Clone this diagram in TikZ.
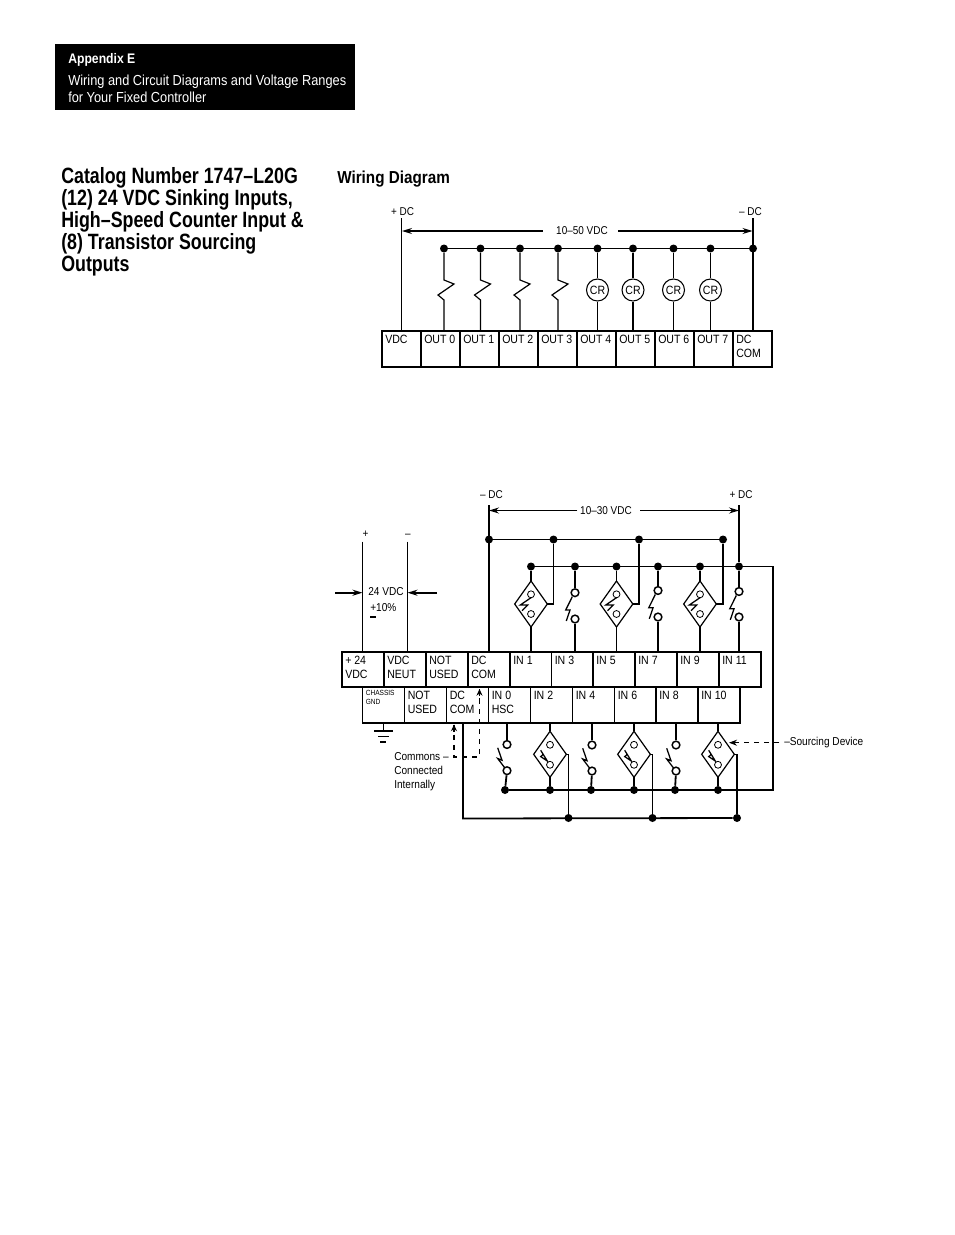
\documentclass[tikz,border=0pt]{standalone}
\usepackage{fontspec}
\setmainfont{Liberation Sans}
\newfontfamily\cond[FakeStretch=0.88]{Liberation Sans}
\newfontfamily\bcond[FakeStretch=0.88]{Liberation Sans Bold}
\newfontfamily\tcond[FakeStretch=0.805]{Liberation Sans Bold}
\usetikzlibrary{shapes.geometric,arrows.meta,calc}
\tikzset{
  wire/.style={line width=0.9pt,line join=miter},
  hvy/.style={line width=1.35pt},
  dotn/.style={circle,fill=black,inner sep=0pt,minimum size=6pt},
  tbox/.style={draw,line width=0.85pt,inner sep=0pt,outer sep=0pt},
  tlab/.style={anchor=north west,inner sep=0pt,align=left,font=\cond\fontsize{9}{10.5}\selectfont},
  lab/.style={inner sep=0pt,font=\cond\fontsize{8.5}{10.5}\selectfont},
  crn/.style={draw,circle,line width=0.8pt,inner sep=0pt,minimum size=16.5pt,fill=white,font=\cond\fontsize{9}{10}\selectfont},
  sens/.style={draw,diamond,line width=0.9pt,inner sep=0pt,outer sep=0pt,minimum width=24.5pt,minimum height=34.5pt,fill=white},
  cnt/.style={draw,circle,line width=0.6pt,inner sep=0pt,minimum size=5.2pt,fill=white},
  sw/.style={draw,circle,line width=1.1pt,inner sep=0pt,minimum size=5.8pt,fill=white},
  blade/.style={line width=0.95pt,line join=miter},
  tip/.style={-{Stealth[length=7.5pt,width=4.5pt]}},
  dsh/.style={line width=0.8pt,dash pattern=on 3.8pt off 3.8pt},
}
\newcommand{\term}[6]{%
  \node[tbox,minimum width={(#3-#2)*0.75pt},minimum height={(#5-#4)*0.75pt}] (#1) at ({(#2+#3)/2},{(#4+#5)/2}) {};
  \node[tlab] (#1-t) at ([shift={(3,3.5)}]#1.north west) {#6};}
\newcommand{\upsens}[3]{%
  \node[sens] (#1) at (#2,#3) {};
  \draw[blade] (#2+1,#3-7) -- (#2-10.7,#3+1) -- (#2-3.3,#3+1) -- (#2-9,#3+6.7);
  \node[cnt] (#1-a) at (#2,#3-9.7) {};
  \node[cnt] (#1-b) at (#2,#3+10) {};}
\newcommand{\lowsens}[3]{%
  \node[sens] (#1) at (#2,#3) {};
  \draw[blade] (#2-9.3,#3-4) -- (#2-2.7,#3+6.7) -- (#2-9.3,#3+2.3) -- (#2-6.7,#3);
  \node[cnt] (#1-a) at (#2,#3-9.5) {};
  \node[cnt] (#1-b) at (#2,#3+10.5) {};}
\newcommand{\upsw}[4]{%
  \draw[blade] (#2-2.7,#3+4) -- (#2-9.3,#3+17.3) -- (#2-5,#3+17.3) -- (#2-8.7,#3+28.3);
  \node[sw] (#1-a) at (#2,#3) {};
  \node[sw] (#1-b) at (#2,#4) {};}
\newcommand{\lowsw}[4]{%
  \draw[blade] (#2-9.3,#3+3.3) -- (#2-5,#3+15.7) -- (#2-9.3,#3+14) -- (#2-1.7,#3+24);
  \node[sw] (#1-a) at (#2,#3) {};
  \node[sw] (#1-b) at (#2,#4) {};}
\begin{document}
\begin{tikzpicture}[x=0.75pt,y=-0.75pt]
\useasboundingbox[fill=white] (0,0) rectangle (954,1235);
% header
\node[fill=black,minimum width=225pt,minimum height=49.5pt,inner sep=0pt] (hdr) at (205,77) {};
\node[inner sep=0pt,anchor=base west,text=white,font=\bcond\fontsize{10.4}{12}\selectfont] (hd1) at (68,63.5) {Appendix E};
\node[inner sep=0pt,anchor=base west,text=white,font=\cond\fontsize{10.9}{12}\selectfont] (hd2) at (68,85) {Wiring and Circuit Diagrams and Voltage Ranges};
\node[inner sep=0pt,anchor=base west,text=white,font=\cond\fontsize{10.9}{12}\selectfont] (hd3) at (68,102) {for Your Fixed Controller};
% title
\node[anchor=north west,inner sep=0pt,align=left,font=\tcond\fontsize{16.6}{16.5}\selectfont] (title) at (61,167)
 {Catalog Number 1747–L20G\\(12) 24 VDC Sinking Inputs,\\High–Speed Counter Input \&\\(8) Transistor Sourcing\\Outputs};
\node[inner sep=0pt,anchor=base west,font=\bcond\fontsize{13}{15}\selectfont] (wd) at (337,183) {Wiring Diagram};

% ===== top diagram =====
\term{vdc}{382}{421}{331}{367}{VDC}
\term{o0}{421}{460}{331}{367}{OUT 0}
\term{o1}{460}{499}{331}{367}{OUT 1}
\term{o2}{499}{538}{331}{367}{OUT 2}
\term{o3}{538}{577}{331}{367}{OUT 3}
\term{o4}{577}{616}{331}{367}{OUT 4}
\term{o5}{616}{655}{331}{367}{OUT 5}
\term{o6}{655}{694}{331}{367}{OUT 6}
\term{o7}{694}{733}{331}{367}{OUT 7}
\term{dcc}{733}{772}{331}{367}{DC\\COM}
\foreach \n/\x in {t0/444,t1/480.5,t2/520,t3/558,t4/597.5,t5/633,t6/673.5,t7/710.5,tc/753}
  \node[dotn] (\n) at (\x,248.5) {};
\draw[wire] (t0) -- (tc);
\foreach \i in {0,1,2,3}
  \draw[wire] (t\i) -- ++(0,31.5) -- ++(10,4) -- ++(-16,11) -- ++(6,5) -- (t\i |- o\i.north);
\foreach \i/\x in {4/597.5,5/633,6/673.5,7/710.5}{
  \node[crn] (cr\i) at (\x,290) {CR};
  \draw[wire] (t\i) -- (cr\i) -- (t\i |- o\i.north);}
\coordinate (pl) at (401.7,218);
\coordinate (mi) at (753,218);
\draw[wire] (pl) -- (pl |- vdc.north);
\draw[hvy] (mi) -- (mi |- dcc.north);
\node[lab] (plus) at (402.5,212) {+ DC};
\node[lab] (minus) at (750.5,212) {– DC};
\node[lab] (v50) at (582,231) {10–50 VDC};
\coordinate (a1) at (402,231);\coordinate (a2) at (752.5,231);
\draw[wire,tip] ([xshift=-10pt]v50.west) -- (a1);
\draw[wire,tip] ([xshift=7.5pt]v50.east) -- (a2);

% ===== bottom diagram =====
\term{p24}{342}{384}{652}{687}{+ 24\\VDC}
\term{neut}{384}{426}{652}{687}{VDC\\NEUT}
\term{nu1}{426}{468}{652}{687}{NOT\\USED}
\term{com1}{468}{510}{652}{687}{DC\\COM}
\term{in1}{510}{551.5}{652}{687}{IN 1}
\term{in3}{551.5}{593}{652}{687}{IN 3}
\term{in5}{593}{635}{652}{687}{IN 5}
\term{in7}{635}{677}{652}{687}{IN 7}
\term{in9}{677}{719}{652}{687}{IN 9}
\term{in11}{719}{761}{652}{687}{IN 11}
\node[tbox,minimum width=31.5pt,minimum height=27pt] (chs) at (383.5,705) {};
\node[tlab,font=\cond\fontsize{5.6}{6.8}\selectfont] (chs-t) at (365.5,690) {CHASSIS\\GND};
\term{nu2}{404.5}{446.5}{687}{723}{NOT\\USED}
\term{com2}{446.5}{488.5}{687}{723}{DC\\COM}
\term{in0}{488.5}{530.5}{687}{723}{IN 0\\HSC}
\term{in2}{530.5}{572.5}{687}{723}{IN 2}
\term{in4}{572.5}{614.5}{687}{723}{IN 4}
\term{in6}{614.5}{656}{687}{723}{IN 6}
\term{in8}{656}{698}{687}{723}{IN 8}
\term{in10}{698}{740}{687}{723}{IN 10}
\draw[hvy] (chs.south west) -- (in10.south east);
\draw[hvy] (in11.north east) -- (in11.south east);
\draw[hvy] (in10.north east) -- (in10.south east);

% 24 VDC
\coordinate (sp) at (362.5,541.5);\coordinate (sn) at (407.5,541.5);
\draw[hvy] (sp) -- (sp |- p24.north);
\draw[hvy] (sn) -- (sn |- neut.north);
\coordinate (ap) at (362.5,592.7);\coordinate (an) at (407.5,592.7);
\coordinate (ap0) at (335,592.7);\coordinate (an0) at (437,592.7);
\draw[hvy,tip] (ap0) -- (ap);
\draw[hvy,tip] (an0) -- (an);
\node[lab] (splus) at (365.5,534) {+};
\node[lab] (sminus) at (408,536) {–};
\node[lab,font=\cond\fontsize{8.6}{10}\selectfont] (v24) at (386,592) {24 VDC};
\node[lab,anchor=west,font=\cond\fontsize{8.6}{10}\selectfont] (pct) at (370,608) {+10\%};
\draw[line width=0.8pt] (370,617) -- (376,617);

% rails
\foreach \n/\x in {b0/489,b1/553.5,b2/639,b3/723}
  \node[dotn] (\n) at (\x,539.5) {};
\foreach \n/\x in {r0/531,r1/575,r2/616.5,r3/658,r4/700,r5/739}
  \node[dotn] (\n) at (\x,566.5) {};
\draw[wire] (b0) -- (b3);
\coordinate (dcm) at (489,505);\coordinate (dcp) at (739,505);
\draw[wire] (dcm) -- (dcm |- com1.north);
\draw[wire] (dcp) -- (r5);
\node[lab] (lm) at (491.5,495) {– DC};
\node[lab] (lp) at (741,495) {+ DC};
\node[lab] (v30) at (606,510.5) {10–30 VDC};
\coordinate (a3) at (489,510.5);\coordinate (a4) at (739,510.5);
\draw[wire,tip] ([xshift=-2pt]v30.west) -- (a3);
\draw[wire,tip] ([xshift=6pt]v30.east) -- (a4);

% upper sensors and switches
\upsens{s1}{531}{604}
\upsens{s5}{616.5}{604}
\upsens{s9}{700}{604}
\upsw{w3}{575}{592.7}{619}
\upsw{w7}{658}{590.5}{617}
\upsw{w11}{739}{591.5}{617}
\draw[wire] (r0) -- (s1.north);
\draw[wire] (s1.south) -- (s1 |- in1.north);
\draw[hvy] (r2) -- (s5.north);
\draw[hvy] (s5.south) -- (s5 |- in5.north);
\draw[hvy] (r4) -- (s9.north);
\draw[wire] (s9.south) -- (s9 |- in9.north);
\draw[hvy] (s1.east) -- (b1 |- s1.east) -- (b1);
\draw[hvy] (s5.east) -- (b2 |- s5.east) -- (b2);
\draw[hvy] (s9.east) -- (b3 |- s9.east) -- (b3);
\draw[wire] (r1) -- (w3-a);
\draw[wire] (w3-b) -- (w3-b |- in3.north);
\draw[wire] (r3) -- (w7-a);
\draw[wire] (w7-b) -- (w7-b |- in7.north);
\draw[wire] (r5) -- (w11-a);
\draw[wire] (w11-b) -- (w11-b |- in11.north);

% lower dots
\foreach \n/\x in {l0/505,l1/550,l2/591,l3/634,l4/675,l5/718}
  \node[dotn] (\n) at (\x,790) {};
\foreach \n/\x in {m1/568.5,m2/652.5,m3/737}
  \node[dotn] (\n) at (\x,818) {};
\coordinate (rc1) at (773,566.5);
\coordinate (rc2) at (773,790);
\draw[wire] (r0) -- (rc1) -- (rc2) -- (l0);
\coordinate (bb0) at (463,818.5);
\draw[hvy] (bb0 |- chs.south) -- (bb0) -- (m3);

% lower sensors and switches
\lowsw{w0}{507}{744.5}{770.7}
\lowsw{w4}{592}{745}{771}
\lowsw{w8}{676}{745}{771}
\lowsens{s2}{550}{754.3}
\lowsens{s6}{634}{754.3}
\lowsens{s10}{718}{754.3}
\draw[hvy] (w0-a) -- (w0-a |- in0.south);
\draw[hvy] (w0-b) -- (l0);
\draw[wire] (w4-a) -- (w4-a |- in4.south);
\draw[hvy] (w4-b) -- (l2);
\draw[wire] (w8-a) -- (w8-a |- in8.south);
\draw[hvy] (w8-b) -- (l4);
\draw[wire] (s2.north) -- (s2 |- in2.south);
\draw[wire] (s2.south) -- (l1);
\draw[hvy] (s6.north) -- (s6 |- in6.south);
\draw[wire] (s6.south) -- (l3);
\draw[wire] (s10.north) -- (s10 |- in10.south);
\draw[wire] (s10.south) -- (l5);
\draw[wire] (s2.east) -- (m1 |- s2.east) -- (m1);
\draw[wire] (s6.east) -- (m2 |- s6.east) -- (m2);
\draw[wire] (s10.east) -- (m3 |- s10.east) -- (m3);

% ground
\coordinate (g0) at (383.5,731);
\draw[wire] (chs.south) -- (g0);
\draw[wire] (374,731) -- (393,731);
\draw[wire] (378,736.5) -- (389,736.5);
\draw[wire] (380,742) -- (386,742);

% commons
\node[lab,anchor=north west,align=left,font=\cond\fontsize{8.6}{10.5}\selectfont] (cmn) at (394,752.5) {Commons –\\Connected\\Internally};
\coordinate (d1) at (454,757);\coordinate (d2) at (479.5,757);
\coordinate (d1t) at (454,724.5);\coordinate (d2t) at (479.5,689);
\draw[dsh] (d1t) -- (d1) -- (d2) -- (d2t);
\draw[-{Stealth[length=5pt,width=4.5pt]},line width=.8pt] ($(d1t)+(0,7)$) -- (d1t);
\draw[-{Stealth[length=5pt,width=4.5pt]},line width=.8pt] ($(d2t)+(0,7)$) -- (d2t);

% sourcing device
\node[lab,anchor=west,font=\cond\fontsize{8.6}{10.5}\selectfont] (src) at (784,743) {–Sourcing Device};
\coordinate (srt) at (729,742.7);
\draw[dsh] ([xshift=-3.5pt]src.west |- srt) -- (srt);
\draw[-{Stealth[length=6pt,width=4.5pt]},line width=.8pt] ($(srt)+(8,0)$) -- (srt);
\end{tikzpicture}
\end{document}
